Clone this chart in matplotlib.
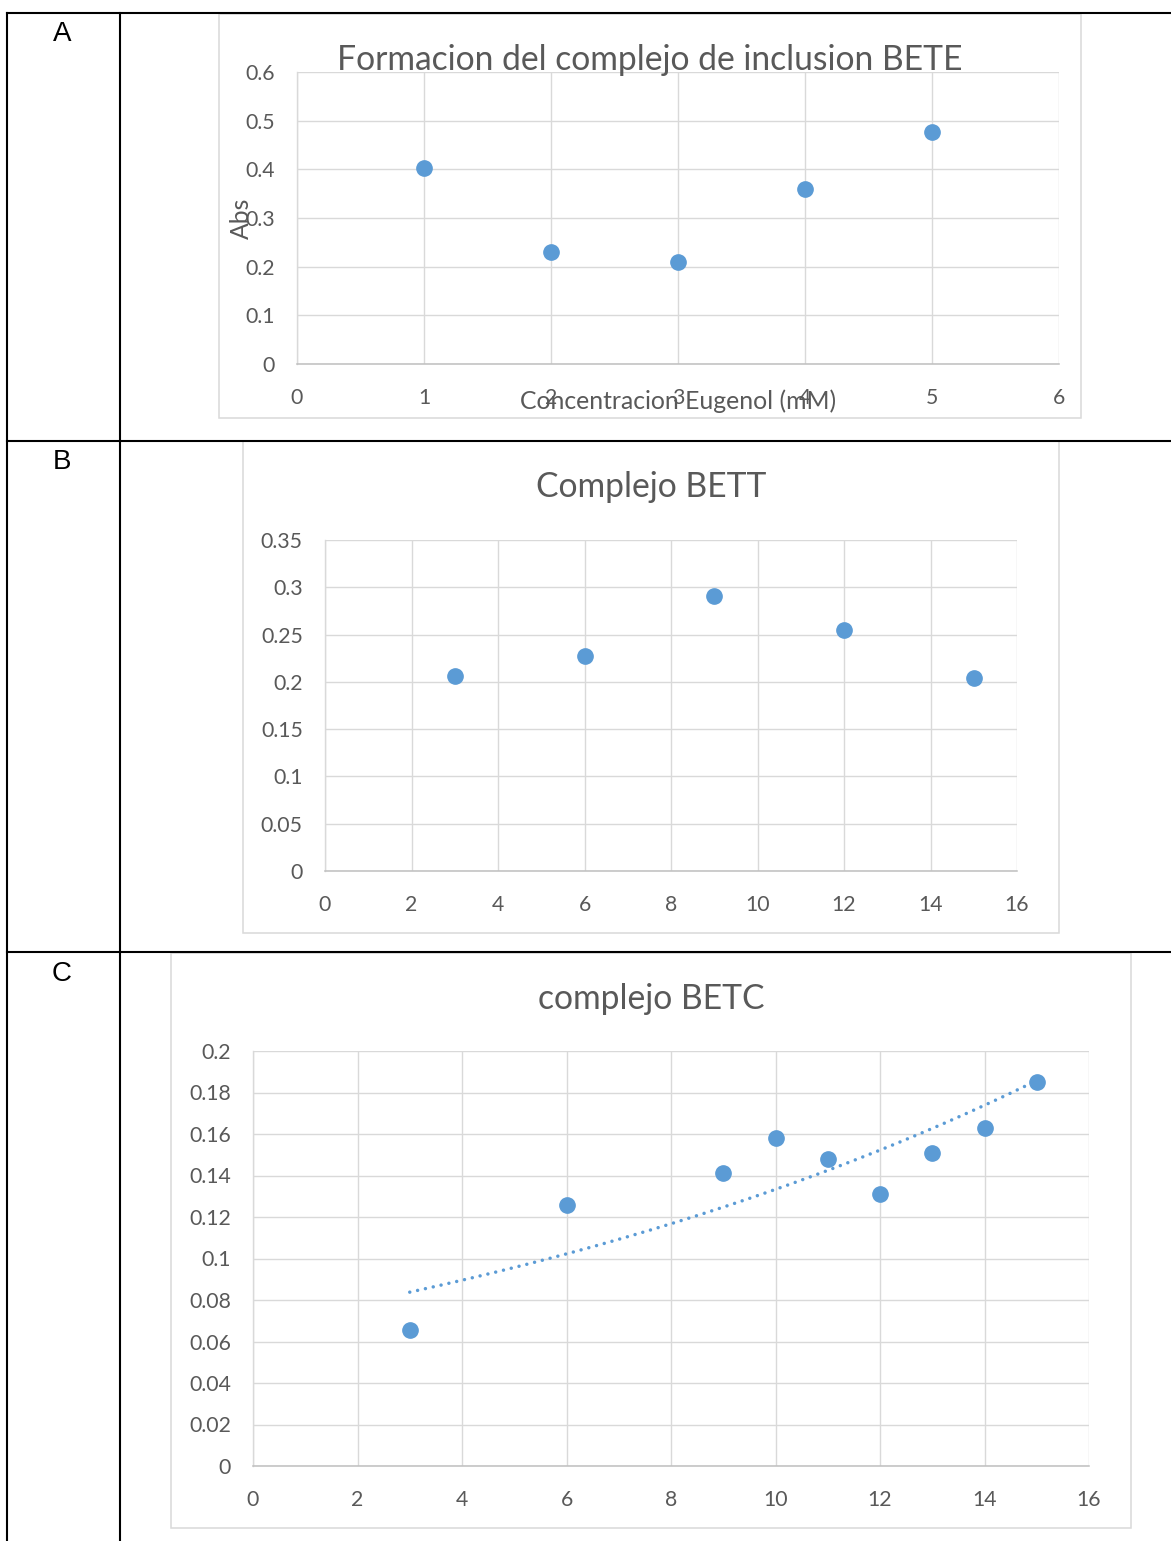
import numpy as np
import matplotlib
matplotlib.use("Agg")
import matplotlib.pyplot as plt
from matplotlib.lines import Line2D
from matplotlib.patches import Rectangle
from matplotlib.ticker import MultipleLocator, FuncFormatter

# ---- data -------------------------------------------------------------
row_labels = ["A", "B", "C"]

bete_conc = [1, 2, 3, 4, 5]
bete_abs = [0.403, 0.230, 0.210, 0.360, 0.477]

bett_conc = [3, 6, 9, 12, 15]
bett_abs = [0.206, 0.227, 0.291, 0.255, 0.204]

betc_conc = [3, 6, 9, 10, 11, 12, 13, 14, 15]
betc_abs = [0.0655, 0.126, 0.141, 0.158, 0.148, 0.131, 0.151, 0.163, 0.185]

titles = ["Formacion del complejo de inclusion BETE", "Complejo BETT", "complejo BETC"]
x_title_a = "Concentracion Eugenol (mM)"
y_title_a = "Abs"

# ---- styling ----------------------------------------------------------
W, H = 1171, 1541
BLUE = "#5b9bd5"
GRID = "#d9d9d9"
TEXT = "#595959"
FONT = "Lato"
TICK_FS = 15.3
TITLE_FS = 24.2
AXTITLE_FS = 17.8

plt.rcParams["font.family"] = [FONT, "DejaVu Sans"]

fig = plt.figure(figsize=(W / 100, H / 100), dpi=100)
fig.patch.set_facecolor("white")


def fx(x):
    return x / W


def fy(y):
    return 1 - y / H


def box(l, t, r, b):
    return [l / W, 1 - b / H, (r - l) / W, (b - t) / H]


def hline(y, x0, x1, **kw):
    fig.add_artist(Line2D([fx(x0), fx(x1)], [fy(y), fy(y)],
                          transform=fig.transFigure, **kw))


def vline(x, y0, y1, **kw):
    fig.add_artist(Line2D([fx(x), fx(x)], [fy(y0), fy(y1)],
                          transform=fig.transFigure, **kw))


# ---- table grid -------------------------------------------------------
tbl = dict(color="black", lw=1.5, solid_capstyle="projecting")
hline(13, 7, W + 5, **tbl)
hline(440.5, 7, W + 5, **tbl)
hline(951.5, 7, W + 5, **tbl)
vline(7, 13, H + 5, **tbl)
vline(120, 13, H + 5, **tbl)

for lab, base in zip(row_labels, [41, 469, 981]):
    fig.text(fx(62), fy(base), lab, ha="center", va="baseline",
             fontsize=20, color="black", family="Liberation Sans")

gfmt = FuncFormatter(lambda v, p: f"{v:g}")


def chart(frame, plot, xs, ys, xlim, xstep, ylim, ystep, title, title_base):
    l, t, r, b = frame
    fig.add_artist(Rectangle((fx(l), fy(b)), (r - l) / W, (b - t) / H,
                             transform=fig.transFigure, facecolor="white",
                             edgecolor=GRID, lw=1.1, zorder=0))
    ax = fig.add_axes(box(*plot))
    ax.set_facecolor("none")
    ax.set_xlim(*xlim)
    ax.set_ylim(*ylim)
    ax.xaxis.set_major_locator(MultipleLocator(xstep))
    ax.yaxis.set_major_locator(MultipleLocator(ystep))
    ax.xaxis.set_major_formatter(gfmt)
    ax.yaxis.set_major_formatter(gfmt)
    ax.grid(True, color=GRID, lw=1.0, zorder=0)
    ax.set_axisbelow(True)
    for s in ["top", "right"]:
        ax.spines[s].set_visible(False)
    ax.spines["left"].set_color(GRID)
    ax.spines["left"].set_linewidth(1.0)
    ax.spines["bottom"].set_color("#bfbfbf")
    ax.spines["bottom"].set_linewidth(1.1)
    ax.tick_params(axis="both", length=0, labelsize=TICK_FS, labelcolor=TEXT)
    ax.tick_params(axis="x", pad=17)
    ax.tick_params(axis="y", pad=16)
    ax.plot(xs, ys, linestyle="none", marker="o", markersize=11,
            color=BLUE, mec=BLUE, zorder=3, clip_on=False)
    cx = (l + r) / 2
    fig.text(fx(cx), fy(title_base), title, ha="center", va="baseline",
             fontsize=TITLE_FS, color=TEXT)
    return ax


# ---- chart A ----------------------------------------------------------
ax_a = chart((219, 14, 1081, 418), (297, 72, 1059, 364),
             bete_conc, bete_abs, (0, 6), 1, (0, 0.6), 0.1, titles[0], 70)
fig.text(fx(241), fy(218), y_title_a, rotation=90, ha="center", va="center",
         fontsize=AXTITLE_FS, color=TEXT)
fig.text(fx(678), fy(401), x_title_a, ha="center", va="center",
         fontsize=AXTITLE_FS, color=TEXT)

# ---- chart B ----------------------------------------------------------
ax_b = chart((243, 441, 1059, 933), (325, 540, 1017, 871),
             bett_conc, bett_abs, (0, 16), 2, (0, 0.35), 0.05, titles[1], 497)

# ---- chart C with exponential trendline -------------------------------
ax_c = chart((171, 953, 1131, 1528), (253, 1051, 1089, 1466),
             betc_conc, betc_abs, (0, 16), 2, (0, 0.2), 0.02, titles[2], 1009)
slope, intercept = np.polyfit(betc_conc, np.log(betc_abs), 1)
xt = np.linspace(min(betc_conc), max(betc_conc), 200)
ax_c.plot(xt, np.exp(intercept + slope * xt), color=BLUE, lw=2.5,
          linestyle=(0, (0.01, 2.3)), dash_capstyle="round", zorder=2)

fig.savefig("out.png", dpi=100, facecolor="white")
